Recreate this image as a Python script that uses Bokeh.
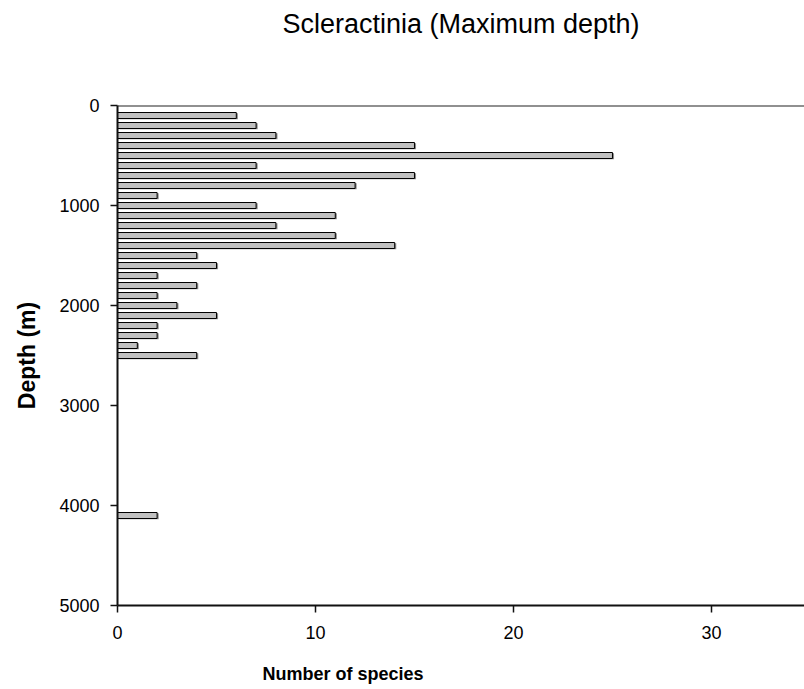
from bokeh.plotting import figure
from bokeh.models import Range1d, FixedTicker, Span, Title
from bokeh.embed import file_html
from bokeh.resources import INLINE

depths = [100, 200, 300, 400, 500, 600, 700, 800, 900, 1000,
          1100, 1200, 1300, 1400, 1500, 1600, 1700, 1800, 1900, 2000,
          2100, 2200, 2300, 2400, 2500, 4100]
species = [6, 7, 8, 15, 25, 7, 15, 12, 2, 7,
           11, 8, 11, 14, 4, 5, 2, 4, 2, 3,
           5, 2, 2, 1, 4, 2]
x_ticks = [0, 10, 20, 30]
y_ticks = [0, 1000, 2000, 3000, 4000, 5000]

FONT = "Liberation Sans"

p = figure(width=804, height=689, output_backend="svg", toolbar_location=None,
           title=None,
           x_range=Range1d(0, 34.7), y_range=Range1d(5000, 0),
           min_border_left=117, min_border_right=0, min_border_top=105,
           min_border_bottom=84)
p.frame_width = 687
p.frame_height = 500

# shadow
p.hbar(y=[d + 8 for d in depths], left=0.1, right=[s + 0.08 for s in species], height=60,
       fill_color="#8a8a8a", line_color=None)
p.hbar(y=depths, left=0, right=species, height=60,
       fill_color="#c0c0c0", line_color="black", line_width=1)

p.add_layout(Span(location=0, dimension="width", line_color="#222222", line_width=2))

# spacer between frame and title
p.add_layout(Title(text=" ", text_font_size="1px", standoff=64), "above")
p.add_layout(Title(text="Scleractinia (Maximum depth)", align="center",
                   text_font=FONT, text_font_style="normal", text_font_size="27px",
                   text_color="black", standoff=0), "above")

# spacer below the x axis, then the x label (placed left of centre, as in the original)
p.add_layout(Title(text=" ", text_font_size="1px", standoff=17), "below")
p.add_layout(Title(text="Number of species", align="left", offset=145,
                   text_font=FONT, text_font_style="bold", text_font_size="18px",
                   text_color="black", standoff=0), "below")

for ax in (p.xaxis[0], p.yaxis[0]):
    ax.axis_line_color = "#111111"
    ax.axis_line_width = 2
    ax.major_tick_line_color = "#111111"
    ax.major_tick_line_width = 1.5
    ax.major_tick_in = 0
    ax.major_tick_out = 7
    ax.minor_tick_line_color = None
    ax.major_label_text_font = FONT
    ax.major_label_text_font_size = "18px"
    ax.major_label_text_color = "black"

p.xaxis.ticker = FixedTicker(ticks=x_ticks)
p.yaxis.ticker = FixedTicker(ticks=y_ticks)
p.xaxis.major_label_standoff = 13
p.yaxis.major_label_standoff = 11
p.xaxis.axis_label = None

p.yaxis.axis_label = "Depth (m)"
p.yaxis.axis_label_text_font = FONT
p.yaxis.axis_label_text_font_style = "bold"
p.yaxis.axis_label_text_font_size = "23px"
p.yaxis.axis_label_text_color = "black"
p.yaxis.axis_label_standoff = 16

p.xgrid.grid_line_color = None
p.ygrid.grid_line_color = None
p.outline_line_color = None
p.background_fill_color = "white"
p.border_fill_color = "white"

open("out.html", "w").write(file_html(p, INLINE))
